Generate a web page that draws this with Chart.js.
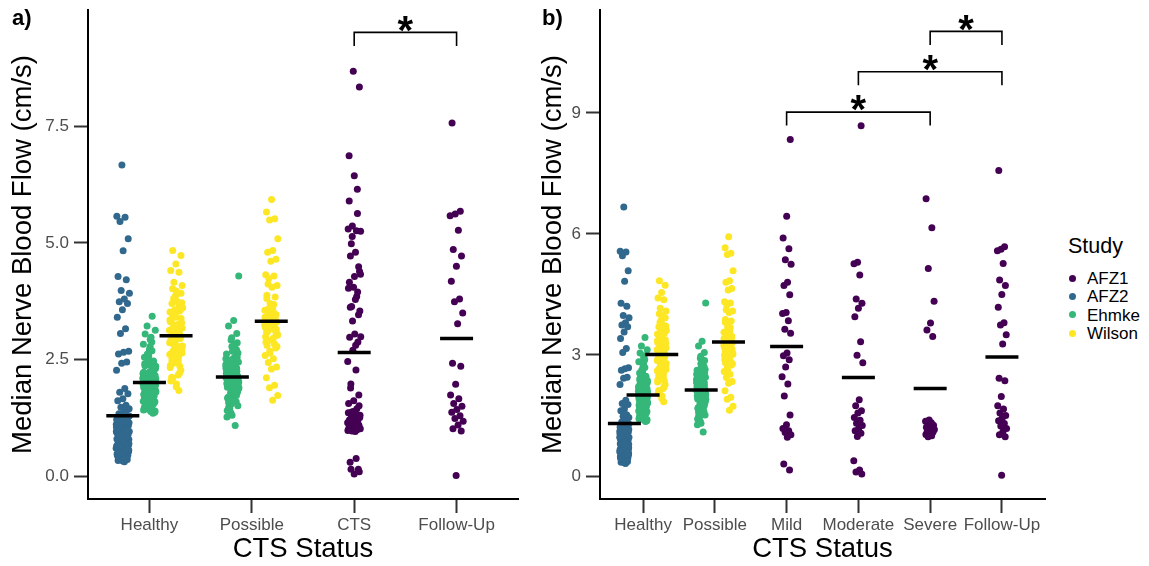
<!DOCTYPE html>
<html lang="en">
<head>
<meta charset="UTF-8">
<title>Median Nerve Blood Flow by CTS Status</title>
<script src="https://cdn.jsdelivr.net/npm/chart.js@4.4.0/dist/chart.umd.min.js"></script>
<style>
  body { margin: 0; background: #fff; font-family: "Liberation Sans", Arial, sans-serif; }
  #wrap { position: relative; width: 1149px; height: 566px; overflow: hidden; }
  #wrap canvas { position: absolute; top: 0; }
  .tag { position: absolute; top: 7px; font-weight: bold; font-size: 22px; line-height: 1; color: #000; }
  .leg { position: absolute; line-height: 1; color: #000; white-space: nowrap; }
  .dot { position: absolute; width: 7px; height: 7px; border-radius: 50%; }
</style>
</head>
<body>
<div id="wrap">
  <canvas id="chartA" width="530" height="566" style="left:0"></canvas>
  <canvas id="chartB" width="519" height="566" style="left:530px"></canvas>
  <div class="tag" style="left:12px">a)</div>
  <div class="tag" style="left:542px">b)</div>
  <div id="legend"></div>
</div>
<script>
const studies = ['AFZ1', 'AFZ2', 'Ehmke', 'Wilson'];
const studyColors = ['#440154', '#31688E', '#35B779', '#FDE725'];

const catsA = ['Healthy', 'Possible', 'CTS', 'Follow-Up'];
const catsB = ['Healthy', 'Possible', 'Mild', 'Moderate', 'Severe', 'Follow-Up'];
const yTicksA = [0, 2.5, 5, 7.5];
const yTicksB = [0, 3, 6, 9];

// Healthy
const healthyAFZ2 = [6.67, 5.57, 5.55, 5.46, 5.09, 4.83, 4.28, 4.21, 3.98, 3.92, 3.80, 3.74, 3.70, 3.57, 3.41, 3.16,
  3.06, 2.68, 2.66, 2.62, 2.45, 2.42, 2.27, 1.88, 1.80, 1.77, 1.66, 1.62, 1.52, 1.48, 1.45, 1.40,
  1.34, 1.27, 1.31, 1.22, 1.18, 1.25, 1.09, 1.14, 1.02, 1.20, 0.97, 1.11, 0.93, 1.06, 0.88, 1.16, 0.99, 0.84,
  1.04, 0.79, 0.91, 1.12, 0.86, 0.74, 0.95, 1.01, 0.81, 0.69, 0.89, 1.08, 0.77, 0.63, 0.96, 0.72, 0.85, 0.58,
  1.23, 0.92, 0.66, 0.83, 0.54, 0.98, 0.71, 0.49, 0.87, 1.05, 0.61, 0.78, 0.45, 0.94, 0.68, 0.82, 0.41, 1.15,
  0.75, 0.57, 0.90, 0.37, 0.80, 0.64, 1.03, 0.52, 0.86, 0.34, 0.73, 0.95, 0.60, 0.31, 0.88, 1.19, 0.70, 0.47,
  0.83, 0.99, 0.56, 0.76, 0.39, 0.92, 1.07, 0.65, 0.81, 0.43, 0.89, 0.33, 0.62, 0.97, 0.51, 1.29, 0.76, 0.85,
  0.36, 0.42, 0.48, 0.53, 0.59, 0.67, 0.74, 0.79, 0.84, 0.91, 0.96, 1.01, 1.10, 1.17, 1.24, 0.44, 0.55, 0.63,
  0.70, 0.87, 0.93, 1.00, 1.13, 1.21, 0.38, 0.50, 0.58, 0.79, 0.98, 1.33];
const healthyEhmke = [3.43, 3.22, 3.13, 2.93, 3.05, 2.46, 1.87, 2.21, 1.62, 2.04, 1.95, 2.72, 1.48, 2.13, 1.79,
  2.36, 1.69, 2.01, 1.56, 2.58, 1.91, 2.27, 1.74, 1.40, 2.09, 1.83, 2.44, 1.65, 1.99, 2.17, 1.52, 1.88, 2.66,
  1.77, 2.06, 1.44, 2.31, 1.94, 1.71, 2.11, 1.59, 2.83, 1.85, 2.00, 1.37, 2.24, 1.67, 1.97, 2.52, 1.81, 2.15,
  1.63, 1.92, 2.39, 1.75, 1.50, 2.07, 1.86, 2.78, 1.69, 2.03, 1.57, 2.19, 1.90, 1.46, 2.34, 1.79, 2.12, 1.64,
  2.62, 1.96, 1.84, 1.53, 2.25, 1.73, 1.42, 2.88, 2.05, 1.60, 1.93, 2.41, 1.35, 1.82, 2.10, 2.98,
  1.58, 1.72, 1.89, 2.08, 2.29, 1.66, 1.81, 1.98, 2.14, 2.47, 1.45, 1.61, 1.76, 1.93, 2.02, 2.20, 2.55, 1.70,
  1.87, 2.09, 1.39, 1.54, 1.78, 1.95, 2.23, 2.69, 1.83, 2.16, 1.49, 2.37];
const healthyWilson = [4.84, 4.73, 4.55, 4.41, 4.37, 4.16, 4.09, 3.91, 3.70, 3.26, 2.84, 3.52, 2.47, 3.08, 2.66,
  3.97, 3.33, 2.21, 2.93, 3.61, 2.55, 3.15, 2.78, 3.44, 2.38, 3.02, 3.81, 2.71, 3.21, 2.12, 2.98, 3.57, 2.61,
  3.11, 2.89, 3.38, 2.44, 2.04, 3.66, 2.81, 3.18, 2.52, 3.48, 2.95, 3.86, 2.33, 3.06, 2.69, 3.29, 1.98, 2.87,
  3.54, 2.58, 3.13, 2.75, 4.02, 2.27, 3.41, 2.91, 1.84, 3.23, 2.64, 3.75, 2.49, 3.01, 2.83, 3.35, 2.17, 2.97,
  3.59, 1.92, 2.63, 3.07, 3.46, 2.79, 3.19, 2.41, 3.63, 2.92, 3.31, 2.56, 3.00, 3.72, 2.70, 3.14, 2.36, 3.50,
  2.86, 3.25, 2.10, 3.92];

// Possible
const possibleEhmke = [4.29, 3.34, 3.22, 3.06, 2.97, 2.41, 1.88, 2.18, 2.64, 1.72, 2.05, 2.33, 1.97, 2.52, 1.81,
  2.12, 2.86, 1.63, 2.26, 2.01, 1.92, 2.45, 1.77, 2.09, 2.71, 1.55, 2.21, 1.95, 2.37, 1.84, 2.14, 1.68, 2.58,
  2.03, 1.90, 2.29, 1.48, 2.16, 2.78, 1.99, 1.75, 2.43, 2.07, 1.86, 2.24, 1.60, 2.92, 2.11, 1.94, 2.35, 1.80,
  2.00, 1.41, 2.19, 2.49, 1.89, 2.08, 1.70, 2.31, 1.96, 2.62, 1.83, 2.13, 1.51, 2.27, 1.93, 2.04, 1.36, 2.39,
  1.78, 2.17, 2.55, 1.31, 1.27, 1.09, 2.10, 1.87, 2.22, 2.46, 1.73, 1.98, 2.30, 2.06, 1.66, 2.15, 2.68, 1.91,
  2.36, 1.79, 2.02, 2.53, 1.58, 2.25, 1.85, 2.12, 2.81, 1.45, 1.97, 2.41, 2.18, 1.76, 2.07, 2.33, 1.62, 2.00];
const possibleWilson = [5.93, 5.66, 5.52, 5.49, 5.09, 4.84, 4.80, 4.65, 4.61, 4.32, 4.29, 4.24, 4.09, 4.05, 3.88,
  3.84, 3.70, 3.41, 2.96, 3.58, 3.15, 3.66, 3.27, 2.84, 3.49, 3.02, 3.62, 3.36, 2.75, 3.53, 3.19, 3.44, 2.91,
  3.31, 3.60, 3.08, 3.39, 2.68, 3.24, 3.55, 3.11, 3.46, 3.34, 2.88, 3.22, 3.57, 3.05, 3.29, 2.80, 3.47, 3.17,
  2.59, 2.52, 2.44, 2.34, 2.30, 2.11, 1.95, 1.90, 1.73, 1.63, 3.43, 3.10, 3.52, 2.99, 3.68, 3.25, 2.78, 3.38,
  3.81, 3.14, 2.64, 3.56, 3.30, 4.12, 3.02];

// CTS by severity (AFZ1)
const mildAFZ1 = [8.34, 6.44, 5.90, 5.63, 5.36, 5.25, 4.80, 4.72, 4.49, 4.05, 4.03, 3.85, 3.64, 3.54, 3.05,
  2.98, 2.88, 2.70, 2.46, 2.28, 1.98, 1.51, 1.27, 1.18, 1.12, 1.08, 1.02, 0.96, 0.30, 0.15];
const moderateAFZ1 = [8.68, 5.30, 5.26, 4.98, 4.39, 4.28, 4.16, 3.95, 3.33, 2.99, 2.81, 1.89, 1.74, 1.62, 1.56,
  1.45, 1.38, 1.31, 1.25, 1.18, 1.12, 1.06, 0.98, 0.38, 0.15, 0.10, 0.05];
const severeAFZ1 = [6.87, 6.15, 5.14, 4.33, 3.79, 3.62, 3.46, 1.39, 1.36, 1.32, 1.28, 1.26, 1.24, 1.21, 1.19,
  1.17, 1.15, 1.13, 1.11, 1.09, 1.06, 1.03, 1.00, 0.97];
const followUpAFZ1 = [7.57, 5.68, 5.62, 5.58, 5.27, 4.86, 4.72, 4.50, 4.18, 3.80, 3.74, 3.50, 3.27, 2.42, 2.36,
  1.97, 1.74, 1.66, 1.56, 1.50, 1.43, 1.37, 1.30, 1.24, 1.18, 1.10, 1.02, 0.97, 0.02];
const ctsAFZ1 = mildAFZ1.concat(moderateAFZ1, severeAFZ1);

// group means (black bars)
const healthyMeans = [1.30, 2.01, 3.01];   // AFZ2, Ehmke, Wilson
const possibleMeans = [2.13, 3.32];        // Ehmke, Wilson
const ctsMean = 2.65;
const severityMeans = [3.21, 2.44, 2.17];  // Mild, Moderate, Severe
const followUpMean = 2.95;

// significance brackets (category positions) and their heights
const bracketsA = [[3, 4]];
const bracketTopsA = [9.51];
const bracketsB = [[5, 6], [4, 6], [3, 5]];
const bracketTopsB = [11.02, 10.02, 9.02];

const FONT = '"Liberation Sans", Arial, sans-serif';
const dodge3 = [-0.26, 0, 0.26];
const dodge2 = [-0.19, 0.19];

// fixed pseudo-jitter so the strips spread the same way on every render
function jitter(i, seed) {
  const f = ((i + 1) * 0.6180339887 + seed * 0.2719) % 1;
  return (f * 2 - 1) * 0.065;
}
function strip(values, xPos, seed) {
  return values.map((v, i) => ({ x: xPos + jitter(i, seed), y: v }));
}

function pointSet(study, data) {
  const c = studyColors[studies.indexOf(study)];
  return {
    label: study, data: data, order: 2,
    pointRadius: 3.5, pointStyle: 'circle',
    pointBackgroundColor: c, pointBorderWidth: 0, pointBorderColor: c
  };
}
function meanSet(data) {
  return {
    label: 'mean', data: data, order: 0,
    pointStyle: 'line', pointRadius: 16.5, pointBorderWidth: 3.5, pointBorderColor: '#000'
  };
}

const bracketPlugin = {
  id: 'brackets',
  afterDatasetsDraw(chart, args, opts) {
    const { ctx, scales: { x, y } } = chart;
    ctx.save();
    ctx.strokeStyle = '#000';
    ctx.fillStyle = '#000';
    ctx.lineWidth = 1.6;
    opts.pairs.forEach((p, i) => {
      const x0 = x.getPixelForValue(p[0]);
      const x1 = x.getPixelForValue(p[1]);
      const yt = y.getPixelForValue(opts.tops[i]);
      ctx.beginPath();
      ctx.moveTo(x0, yt + 13.5);
      ctx.lineTo(x0, yt);
      ctx.lineTo(x1, yt);
      ctx.lineTo(x1, yt + 13.5);
      ctx.stroke();
      ctx.font = 'bold 40px ' + FONT;
      ctx.textAlign = 'center';
      ctx.textBaseline = 'alphabetic';
      ctx.fillText('*', (x0 + x1) / 2, yt - 12 + 0.58 * 40);
    });
    ctx.restore();
  }
};

function makeChart(id, cats, yMin, yMax, yTicks, yFmt, datasets, pairs, tops, axisWidth, rightPad) {
  return new Chart(document.getElementById(id), {
    type: 'scatter',
    data: { datasets: datasets },
    options: {
      responsive: false,
      animation: false,
      events: [],
      layout: { autoPadding: false, padding: { top: 10, right: rightPad, bottom: 0, left: 0 } },
      plugins: {
        legend: { display: false },
        tooltip: { enabled: false },
        brackets: { pairs: pairs, tops: tops }
      },
      scales: {
        x: {
          type: 'linear', min: 0.4, max: cats.length + 0.6,
          afterBuildTicks: s => { s.ticks = cats.map((c, i) => ({ value: i + 1 })); },
          afterFit: s => { s.height = 67; s.paddingLeft = 0; s.paddingRight = 0; },
          ticks: {
            callback: (v, i) => cats[i], autoSkip: false, maxRotation: 0,
            color: '#4D4D4D', font: { size: 17, family: FONT }, padding: 2
          },
          grid: { drawOnChartArea: false, drawTicks: true, tickLength: 14, tickWidth: 2, tickColor: '#333333' },
          border: { display: true, color: '#000', width: 2 },
          title: { display: true, text: 'CTS Status', color: '#000', font: { size: 27.5, family: FONT }, padding: { top: 0, bottom: 0 } }
        },
        y: {
          type: 'linear', min: yMin, max: yMax,
          afterBuildTicks: s => { s.ticks = yTicks.map(v => ({ value: v })); },
          afterFit: s => { s.width = axisWidth; s.paddingTop = 0; s.paddingBottom = 0; },
          ticks: { callback: v => yFmt(v), color: '#4D4D4D', font: { size: 17, family: FONT }, padding: 5 },
          grid: { drawOnChartArea: false, drawTicks: true, tickLength: 14, tickWidth: 2, tickColor: '#333333' },
          border: { display: true, color: '#000', width: 2 },
          title: { display: true, text: 'Median Nerve Blood Flow (cm/s)', color: '#000', font: { size: 27.5, family: FONT }, padding: { top: 6.5, bottom: 0 } }
        }
      }
    },
    plugins: [bracketPlugin]
  });
}

// panel a
const dataA = [
  pointSet('AFZ1', strip(ctsAFZ1, 3, 1).concat(strip(followUpAFZ1, 4, 2))),
  pointSet('AFZ2', strip(healthyAFZ2, 1 + dodge3[0], 3)),
  pointSet('Ehmke', strip(healthyEhmke, 1 + dodge3[1], 4).concat(strip(possibleEhmke, 2 + dodge2[0], 5))),
  pointSet('Wilson', strip(healthyWilson, 1 + dodge3[2], 6).concat(strip(possibleWilson, 2 + dodge2[1], 7))),
  meanSet([
    { x: 1 + dodge3[0], y: healthyMeans[0] }, { x: 1 + dodge3[1], y: healthyMeans[1] }, { x: 1 + dodge3[2], y: healthyMeans[2] },
    { x: 2 + dodge2[0], y: possibleMeans[0] }, { x: 2 + dodge2[1], y: possibleMeans[1] },
    { x: 3, y: ctsMean }, { x: 4, y: followUpMean }
  ])
];
makeChart('chartA', catsA, -0.486, 9.99, yTicksA, v => v.toFixed(1), dataA, bracketsA, bracketTopsA, 88, 12);

// panel b
const dataB = [
  pointSet('AFZ1', strip(mildAFZ1, 3, 1).concat(strip(moderateAFZ1, 4, 8), strip(severeAFZ1, 5, 9), strip(followUpAFZ1, 6, 2))),
  pointSet('AFZ2', strip(healthyAFZ2, 1 + dodge3[0], 3)),
  pointSet('Ehmke', strip(healthyEhmke, 1 + dodge3[1], 4).concat(strip(possibleEhmke, 2 + dodge2[0], 5))),
  pointSet('Wilson', strip(healthyWilson, 1 + dodge3[2], 6).concat(strip(possibleWilson, 2 + dodge2[1], 7))),
  meanSet([
    { x: 1 + dodge3[0], y: healthyMeans[0] }, { x: 1 + dodge3[1], y: healthyMeans[1] }, { x: 1 + dodge3[2], y: healthyMeans[2] },
    { x: 2 + dodge2[0], y: possibleMeans[0] }, { x: 2 + dodge2[1], y: possibleMeans[1] },
    { x: 3, y: severityMeans[0] }, { x: 4, y: severityMeans[1] }, { x: 5, y: severityMeans[2] },
    { x: 6, y: followUpMean }
  ])
];
makeChart('chartB', catsB, -0.57, 11.55, yTicksB, v => String(v), dataB, bracketsB, bracketTopsB, 70, 4);

// legend
const legend = document.getElementById('legend');
const title = document.createElement('div');
title.className = 'leg';
title.style.cssText = 'left:1068px;top:236px;font-size:21.5px';
title.textContent = 'Study';
legend.appendChild(title);
studies.forEach((s, i) => {
  const cy = 278 + i * 18.4;
  const dot = document.createElement('div');
  dot.className = 'dot';
  dot.style.cssText = 'left:1068.5px;top:' + (cy - 3.5) + 'px;background:' + studyColors[i];
  legend.appendChild(dot);
  const lab = document.createElement('div');
  lab.className = 'leg';
  lab.style.cssText = 'left:1087px;top:' + (cy - 8.3) + 'px;font-size:17px';
  lab.textContent = s;
  legend.appendChild(lab);
});
</script>
</body>
</html>
